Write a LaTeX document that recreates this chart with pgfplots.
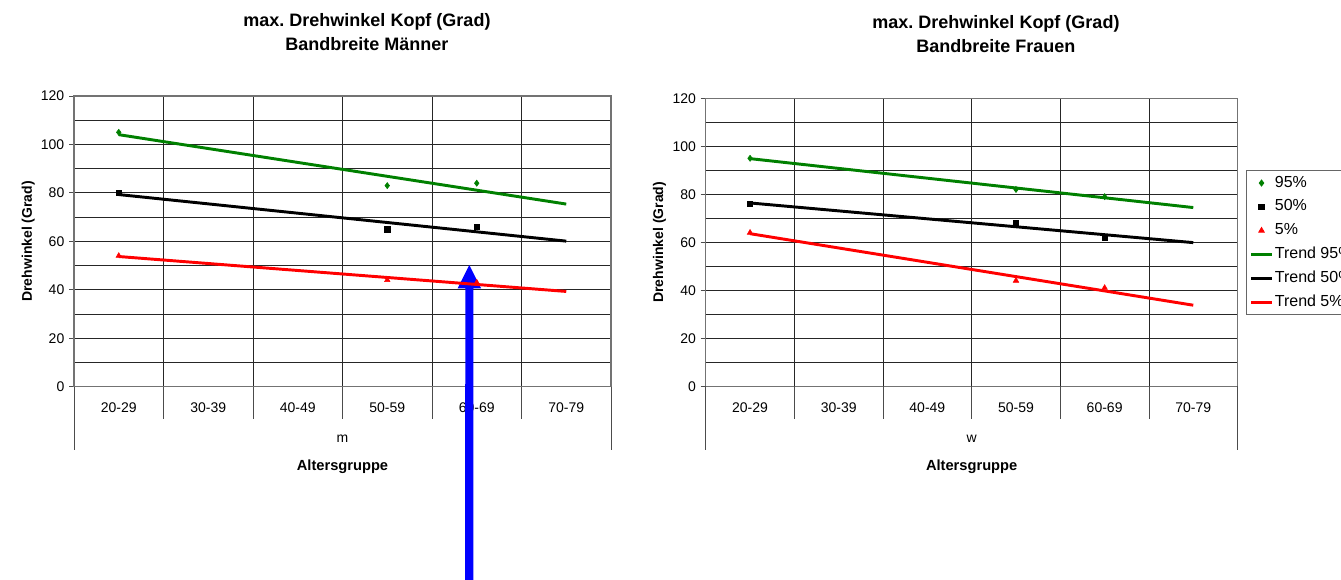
\documentclass[border=0pt]{standalone}
\usepackage{fontspec}
\setmainfont{Liberation Sans}
\usepackage{pgfplots}
\pgfplotsset{compat=1.18}
\definecolor{xlgreen}{RGB}{0,128,0}
\definecolor{xlred}{RGB}{255,0,0}
\definecolor{xlblue}{RGB}{0,0,255}
\tikzset{sepline/.style={black!70, line width=0.6pt}}
\frenchspacing

\pgfplotsset{
 chartbase/.style={
  scale only axis,
  xmin=-0.5, xmax=5.5, ymin=0, ymax=120,
  ytick={0,20,...,120},
  minor ytick={10,30,...,110},
  xtick={0,...,5},
  xticklabels={20-29,30-39,40-49,50-59,60-69,70-79},
  minor xtick={0.5,1.5,...,4.5},
  ymajorgrids, yminorgrids, xminorgrids,
  major grid style={black!85, line width=0.6pt},
  minor grid style={black!85, line width=0.6pt},
  axis line style={black!55, line width=0.8pt},
  tick align=outside,
  ytick pos=left,
  major tick length=3.75pt,
  minor tick length=0pt,
  xtick style={draw=none},
  ytick style={black!70, line width=0.6pt},
  tick label style={font=\fontsize{10.5}{12}\selectfont},
  /pgf/number format/assume math mode=true,
  xticklabel style={anchor=center, yshift=-12pt},
  clip=false,
  legend image code/.code={\draw[mark repeat=2,mark phase=2,##1] plot coordinates {(0pt,0pt) (7.9pt,0pt) (15.8pt,0pt)};},
 },
 dia/.style={only marks, mark=diamond*, mark size=2.3pt, color=xlgreen},
 sq/.style={only marks, mark=square*, mark size=2pt, color=black},
 tri/.style={only marks, mark=triangle*, mark size=2.4pt, color=xlred},
 trend/.style={no marks, line width=2.2pt, color=#1},
}

\begin{document}
\begin{tikzpicture}

% ---------------- left chart: Maenner ----------------
\begin{axis}[chartbase,
  at={(55.5pt,-290pt)}, anchor=south west,
  width=402.75pt, height=218pt]
  % annotation arrow (under the data)
  \fill[xlblue] (axis cs:3.917,50.2) -- ([xshift=8.8pt]axis cs:3.917,40.6) -- ([xshift=3pt]axis cs:3.917,40.6) -- ([xshift=3pt]axis cs:3.917,-90) -- ([xshift=-3pt]axis cs:3.917,-90) -- ([xshift=-3pt]axis cs:3.917,40.6) -- ([xshift=-8.8pt]axis cs:3.917,40.6) -- cycle;
  \coordinate (arr) at (axis cs:3.917,1);

  \addplot[dia] coordinates {(0,105) (3,83) (4,84)};
  \addplot[sq]  coordinates {(0,80) (3,65) (4,66)};
  \addplot[tri] coordinates {(0,54) (3,44) (4,43)};
  \addplot[trend=xlgreen] coordinates {(0,104.04) (5,75.38)};
  \addplot[trend=black]   coordinates {(0,79.31) (5,60.08)};
  \addplot[trend=xlred]   coordinates {(0,53.73) (5,39.31)};

  \draw[sepline] (axis cs:0.5,0) -- ++(0pt,-24.2pt);
  \draw[sepline] (axis cs:1.5,0) -- ++(0pt,-24.2pt);
  \draw[sepline] (axis cs:2.5,0) -- ++(0pt,-24.2pt);
  \draw[sepline] (axis cs:3.5,0) -- ++(0pt,-24.2pt);
  \draw[sepline] (axis cs:4.5,0) -- ++(0pt,-24.2pt);
  \draw[sepline] (axis cs:-0.5,0) -- ++(0pt,-47.5pt);
  \draw[sepline] (axis cs:5.5,0) -- ++(0pt,-47.5pt);

  \node[font=\fontsize{13.5}{16}\selectfont\bfseries, anchor=base] at ([yshift=52.3pt]axis description cs:0.5456,1) {max. Drehwinkel Kopf (Grad)};
  \node[font=\fontsize{13.5}{16}\selectfont\bfseries, anchor=base] at ([yshift=34.3pt]axis description cs:0.5456,1) {Bandbreite Männer};
  \node[rotate=90, anchor=base, font=\fontsize{10.5}{12}\selectfont\bfseries] at ([xshift=-31.5pt]axis description cs:0,0.5) {Drehwinkel (Grad)};
  \node[font=\fontsize{10.5}{12}\selectfont, anchor=center] at ([yshift=-39.2pt]axis description cs:0.5,0) {m};
  \node[font=\fontsize{11}{13}\selectfont\bfseries, anchor=center] at ([yshift=-60.2pt]axis description cs:0.5,0) {Altersgruppe};
\end{axis}
\fill[xlblue] ([xshift=-3pt]arr) rectangle ++(6pt,-200pt);

% ---------------- right chart: Frauen ----------------
\begin{axis}[chartbase,
  at={(529.3pt,-289.7pt)}, anchor=south west,
  width=398.9pt, height=216pt,
  legend style={at={(1.0154,0.751)}, anchor=north west, draw=black!60, line width=0.6pt,
    font=\fontsize{12}{14}\selectfont, inner xsep=2.5pt, inner ysep=2.5pt, row sep=3.85pt,
    nodes={inner sep=1pt, text height=9pt, text depth=3pt}, cells={anchor=west}}]
  \addplot[dia] coordinates {(0,95) (3,82) (4,79)};
  \addlegendentry{95\%}
  \addplot[sq]  coordinates {(0,76) (3,68) (4,62)};
  \addlegendentry{50\%}
  \addplot[tri] coordinates {(0,64) (3,44) (4,41)};
  \addlegendentry{5\%}
  \addplot[trend=xlgreen] coordinates {(0,94.85) (5,74.46)};
  \addlegendentry{Trend 95\%}
  \addplot[trend=black]   coordinates {(0,76.38) (5,59.85)};
  \addlegendentry{Trend 50\%}
  \addplot[trend=xlred]   coordinates {(0,63.58) (5,33.77)};
  \addlegendentry{Trend 5\%}

  \draw[sepline] (axis cs:0.5,0) -- ++(0pt,-24.2pt);
  \draw[sepline] (axis cs:1.5,0) -- ++(0pt,-24.2pt);
  \draw[sepline] (axis cs:2.5,0) -- ++(0pt,-24.2pt);
  \draw[sepline] (axis cs:3.5,0) -- ++(0pt,-24.2pt);
  \draw[sepline] (axis cs:4.5,0) -- ++(0pt,-24.2pt);
  \draw[sepline] (axis cs:-0.5,0) -- ++(0pt,-47.5pt);
  \draw[sepline] (axis cs:5.5,0) -- ++(0pt,-47.5pt);

  \node[font=\fontsize{13.5}{16}\selectfont\bfseries, anchor=base] at ([yshift=52.3pt]axis description cs:0.5457,1) {max. Drehwinkel Kopf (Grad)};
  \node[font=\fontsize{13.5}{16}\selectfont\bfseries, anchor=base] at ([yshift=34.3pt]axis description cs:0.5457,1) {Bandbreite Frauen};
  \node[rotate=90, anchor=base, font=\fontsize{10.5}{12}\selectfont\bfseries] at ([xshift=-32pt]axis description cs:0,0.5) {Drehwinkel (Grad)};
  \node[font=\fontsize{10.5}{12}\selectfont, anchor=center] at ([yshift=-39.2pt]axis description cs:0.5,0) {w};
  \node[font=\fontsize{11}{13}\selectfont\bfseries, anchor=center] at ([yshift=-60.2pt]axis description cs:0.5,0) {Altersgruppe};
\end{axis}

\pgfresetboundingbox
\path[use as bounding box] (0,0) rectangle (1005.75pt,-435pt);
\end{tikzpicture}
\end{document}
